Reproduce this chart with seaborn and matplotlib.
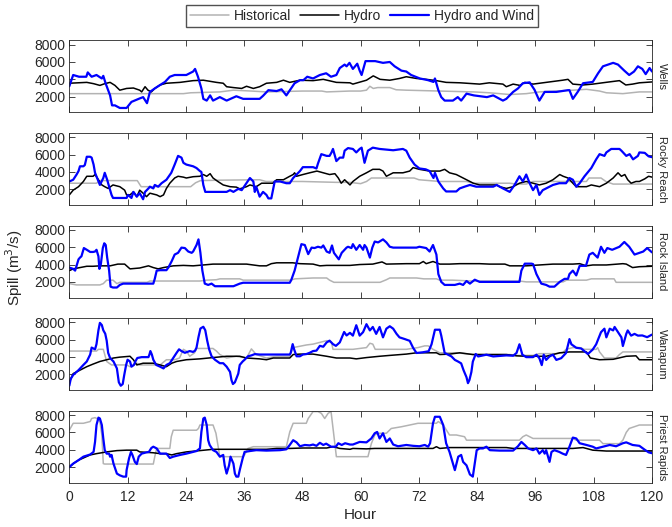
import numpy as np
import matplotlib
matplotlib.use("Agg")
import matplotlib.pyplot as plt
import seaborn as sns

# dam names, top to bottom
dams = ["Wells", "Rocky Reach", "Rock Island", "Wanapum", "Priest Rapids"]
series_names = ["Historical", "Hydro", "Hydro and Wind"]
x_ticks = list(range(0, 121, 12))
y_ticks = [2000, 4000, 6000, 8000]

# (hour, spill m3/s)
wells_hist = [(0, 2350), (23.5, 2350), (25, 2450), (31, 2550), (33.8, 2750), (37.5, 2650), (40.6, 2550),
              (48, 2650), (52, 2650), (53, 2550), (57.7, 2650), (60, 2650), (61.2, 2750), (61.9, 3200),
              (62.6, 2950), (63.5, 3050), (66, 3050), (67.3, 2800), (69.4, 2750), (76.3, 2650), (83.3, 2550),
              (86.5, 2450), (88.6, 2350), (90.7, 2250), (94.1, 2350), (96.8, 2550), (103.7, 2750),
              (106.5, 2850), (109.2, 2650), (110.6, 2450), (114, 2350), (117.4, 2550), (120, 2550)]
wells_hydro = [(0, 3550), (3.6, 3650), (5, 3500), (6.3, 3300), (7.3, 3500), (8.4, 3650), (9.4, 3300),
               (10.4, 2750), (11.8, 2950), (13.2, 3000), (14.5, 2750), (14.9, 2550), (15.6, 3150),
               (16.2, 2750), (16.9, 2550), (17.6, 2950), (18.7, 3350), (20, 3550), (22.8, 3650), (25.5, 3850),
               (27.6, 3900), (30.3, 3650), (31.7, 3550), (32.4, 3150), (33.8, 3050), (35.5, 2950),
               (36.5, 3200), (37.9, 2950), (39.2, 3150), (40.6, 3550), (42.7, 3650), (44.1, 3900),
               (45.4, 3650), (47.5, 3900), (50.2, 3850), (52.3, 4000), (55, 3650), (57.8, 3600),
               (58.4, 3450), (61.2, 3900), (62.6, 4400), (64, 4000), (66, 3900), (68, 4100), (69.4, 4300),
               (71.5, 4100), (73.5, 4000), (75.6, 3850), (77.6, 3650), (80.5, 3600), (84.5, 3450),
               (86.5, 3600), (89.3, 3450), (90, 3150), (91.4, 3450), (92.8, 3300), (93.8, 3650),
               (95.5, 3450), (98.2, 3650), (101.6, 3900), (102.7, 4000), (103.7, 3450), (105.8, 3350),
               (107.8, 3450), (110.5, 3650), (113.3, 3850), (114.6, 3350), (116, 3450), (117.4, 3600),
               (120, 3700)]
wells_wind = [(0, 3200), (0.8, 4500), (2, 4300), (3.5, 4300), (3.8, 4800), (4.6, 4300), (5.6, 4500),
              (6.7, 4100), (7, 4400), (7.5, 3500), (8.4, 2150), (8.8, 1000), (9.4, 1000), (10.4, 700),
              (11.8, 700), (12.8, 1400), (14.5, 1800), (15.2, 1950), (16, 1250), (16.6, 2550), (17.6, 2950),
              (18.7, 3350), (19.7, 3700), (20.7, 4300), (21.7, 4500), (24.1, 4500), (25.5, 4900),
              (25.9, 5200), (26.5, 4300), (27.2, 2950), (27.6, 1750), (28.3, 1550), (29, 2150), (29.6, 1550),
              (30.3, 1750), (31, 1950), (32.4, 1550), (34.4, 2050), (35.8, 1750), (39.2, 1750), (39.9, 2100),
              (41, 2750), (42.7, 2650), (43.7, 2850), (44.7, 2150), (46.4, 3550), (47.5, 3900), (48.2, 3900),
              (49, 4300), (50.2, 4100), (51.6, 4500), (52.9, 4700), (53.9, 4300), (55, 4500), (55.7, 5300),
              (56.7, 5700), (57.1, 5500), (57.7, 5900), (58.4, 5200), (59.3, 5800), (59.8, 5000),
              (60.2, 4500), (61, 6100), (63, 6100), (64.6, 5900), (66, 6000), (67, 5500), (68.4, 5000),
              (69.4, 4900), (70.4, 4500), (72.2, 4100), (73.9, 3900), (75, 3700), (75.3, 4100), (76, 2750),
              (76.6, 1950), (77.3, 1550), (79, 1550), (80, 1950), (80.7, 1550), (81.8, 2350), (83.3, 2150),
              (86, 1950), (87.3, 2150), (89.3, 1550), (90, 1750), (91.4, 2550), (92.4, 2950), (93.4, 3550),
              (94.8, 3650), (95.8, 2800), (96.8, 1550), (97.9, 2550), (100.3, 2550), (102.7, 2750),
              (103, 2750), (103.7, 1750), (104.7, 2550), (105.8, 3550), (107.8, 3700), (108.9, 4700),
              (109.9, 5500), (112, 5900), (113, 5700), (114.3, 5000), (115.3, 4500), (116.3, 4900),
              (117.1, 5500), (118, 5200), (118.7, 4600), (119.5, 5300), (120, 4900)]

rocky_hist = [(0, 2700), (5.6, 2700), (6.3, 3000), (14, 3000), (14.8, 2300), (25, 2300), (26, 2750), (27, 3000),
              (31, 3050), (39.2, 3100), (40.5, 2900), (48, 2900), (55, 2800), (57.7, 2800), (60, 2650),
              (61.2, 2900), (62.2, 3300), (71, 3300), (72, 3100), (76.3, 2900), (81.8, 2900), (83.3, 2700),
              (90.7, 2700), (92, 2600), (94.1, 2600), (95.5, 2900), (106.5, 2900), (107, 3300), (109.5, 3300),
              (110.5, 2900), (112, 2600), (120, 2600)]
rocky_hydro = [(0, 1350), (0.8, 1900), (1.9, 2300), (2.9, 2900), (3.6, 3500), (4.9, 3500), (5.3, 3700),
               (6, 3100), (6.7, 2500), (7.3, 2300), (8, 2100), (9, 2500), (10.4, 2300), (11.4, 1900),
               (11.8, 1350), (12.5, 1350), (13.2, 1700), (13.9, 1150), (14.5, 1900), (15.2, 1550),
               (15.9, 1150), (16.6, 1550), (18, 1350), (18.7, 1150), (19.4, 1350), (20, 2100), (20.7, 2700),
               (21.7, 3300), (22.4, 3500), (23.5, 3400), (24.1, 3300), (25.5, 3450), (26.9, 3500),
               (27.6, 3700), (28.3, 3500), (29, 3800), (29.6, 3300), (30.6, 2900), (31.7, 2500), (33.1, 2300),
               (34.4, 2250), (35.1, 2050), (36.5, 2300), (37.2, 2500), (38.5, 2300), (39.6, 2700),
               (41.9, 2700), (42.7, 3100), (44.1, 3100), (45.4, 3500), (46.1, 3700), (46.4, 3900),
               (46.8, 3500), (48.1, 3700), (49.5, 3900), (51, 4100), (52.3, 3900), (53.6, 3700), (54.7, 3800),
               (55.4, 3300), (56, 2700), (56.7, 3100), (57.8, 2500), (58.4, 2900), (59.8, 3500), (61.2, 3900),
               (62.5, 4300), (63.9, 4300), (64.6, 4100), (65.3, 3500), (66.7, 3900), (68.7, 3900),
               (70.1, 4100), (70.8, 4500), (72.1, 4300), (74.2, 4100), (76.3, 4100), (77.3, 4300),
               (78.3, 3900), (79.7, 3700), (81.1, 3300), (82.5, 2900), (83.2, 2700), (84.5, 2500), (88, 2500),
               (88.6, 2300), (90, 2100), (91.4, 2300), (92.7, 2700), (94.1, 2900), (95.5, 2700), (96.8, 2500),
               (98.2, 2700), (99.6, 3100), (101, 3700), (101.7, 3500), (102.7, 3300), (103.7, 2700),
               (104.4, 2300), (106.5, 2300), (107.5, 2500), (109.2, 2300), (110.6, 2700), (112, 3300),
               (113, 3900), (113.7, 3500), (114.4, 3700), (115, 3100), (115.7, 2700), (116.7, 2900),
               (117.4, 2900), (118.5, 3200), (119.3, 3500), (120, 3400)]
rocky_wind = [(0, 2900), (0.8, 3100), (1.5, 3700), (1.9, 4100), (2.2, 4650), (2.9, 4650), (3.2, 4800),
              (3.6, 5750), (4.3, 5750), (4.6, 5650), (5, 4850), (5.3, 3900), (6, 2900), (6.3, 2500), (7, 3300),
              (7.3, 3900), (7.8, 3100), (8.2, 2300), (8.7, 1350), (9, 1000), (11.8, 1000), (12.1, 1350),
              (12.8, 1000), (13.2, 1700), (13.9, 1150), (14.5, 1550), (15.2, 850), (15.6, 1700), (16.3, 2100),
              (16.6, 2300), (17.3, 2100), (17.6, 2500), (18.3, 2300), (19, 2700), (20, 3100), (21, 3900),
              (21.7, 4850), (22.4, 5850), (23.1, 5650), (23.5, 5050), (24.1, 4850), (25.5, 4650),
              (26.2, 4450), (26.9, 4100), (27.2, 4000), (27.6, 2500), (28, 1700), (31, 1700), (32.4, 1700),
              (33.1, 1900), (33.8, 1700), (34.8, 2050), (35.5, 1900), (37.2, 3300), (37.9, 2900),
              (38.2, 1700), (38.5, 2300), (39.2, 1150), (39.9, 1700), (40.6, 1350), (41, 950), (41.6, 950),
              (42.3, 2900), (43.4, 2900), (44.7, 2700), (45.4, 2700), (46.1, 3300), (46.8, 3700),
              (47.5, 4100), (48.1, 4550), (50.2, 4550), (50.9, 4400), (51.2, 4950), (51.9, 6050), (53, 5850),
              (53.6, 5850), (54, 6250), (54.3, 6650), (55, 5250), (55.7, 5650), (56.4, 5650), (56.7, 6450),
              (57.4, 6750), (58.4, 6650), (59.1, 6250), (59.8, 6650), (60.2, 6800), (60.8, 5050),
              (61.5, 6450), (62.5, 6800), (63.9, 6650), (66.7, 6500), (68.7, 6650), (69.4, 6450),
              (70.1, 5650), (71.1, 4850), (72.1, 4400), (73.4, 4300), (74.2, 4100), (75, 3300), (75.3, 3900),
              (76, 2900), (77, 2100), (77.6, 1750), (79.7, 1750), (80.4, 2100), (81.4, 2300), (82.5, 2500),
              (83.8, 2300), (87.3, 2300), (88, 2500), (89.3, 2100), (90.7, 1700), (91.7, 2500), (92.7, 3500),
              (93.4, 2900), (94.1, 3700), (94.8, 2700), (95.5, 1900), (96.2, 2500), (96.8, 1350),
              (97.5, 1900), (98.9, 2300), (99.6, 2500), (100.9, 2700), (102.3, 2700), (103, 3300),
              (103.7, 3100), (104.4, 2300), (105.1, 2700), (106.1, 3500), (107.5, 4450), (108.5, 5450),
              (109.2, 6050), (110.2, 5850), (110.6, 6250), (111.6, 6650), (113.3, 6650), (113.7, 6450),
              (114.7, 5850), (115.4, 6050), (116.1, 5450), (117.1, 5850), (117.4, 6250), (118.5, 6200),
              (119.3, 5800), (120, 5700)]

island_hist = [(0, 1800), (1.5, 1650), (6.3, 1650), (7, 1800), (7.7, 2200), (9, 2200), (9.8, 1800), (10.4, 1950),
               (16, 1950), (16.6, 2100), (26.9, 2100), (28.3, 2200), (30.3, 2250), (31, 2350), (35.1, 2350),
               (35.8, 2200), (45.4, 2200), (46.5, 2350), (50.2, 2450), (53, 2450), (53.6, 2200), (54.5, 1950),
               (64, 1950), (65.3, 2250), (66, 2450), (71.5, 2450), (73, 2350), (75.6, 2350), (76.3, 2200),
               (78.9, 2200), (83, 2100), (92.7, 2100), (94.1, 2000), (101.7, 2000), (102.4, 2200),
               (106.5, 2200), (107.5, 2350), (112.2, 2350), (112.6, 1950), (120, 1950)]
island_hydro = [(0, 3300), (0.8, 3500), (2.2, 3650), (3.6, 3800), (4.9, 3800), (6.3, 3850), (8.4, 3850),
                (10, 4050), (11.4, 4050), (12.5, 3500), (14.5, 3600), (16.3, 3850), (17.3, 3650), (18.3, 3500),
                (19.4, 3650), (21.4, 3850), (23.5, 3900), (25.5, 3850), (27.6, 3950), (29.6, 4050),
                (36.5, 4050), (39.2, 3850), (40.6, 3850), (41.6, 4100), (42.7, 4200), (46, 4200), (47.5, 4100),
                (50.2, 4050), (51.6, 3850), (53, 3900), (57.8, 3900), (59.8, 4000), (62.5, 4050), (64.4, 4300),
                (65.3, 4050), (69.4, 4100), (72.1, 4100), (72.9, 4350), (73.5, 4100), (74.9, 4350),
                (76.3, 4050), (78.3, 4050), (80.4, 4100), (84.5, 4100), (86.5, 4050), (89.7, 4050),
                (90.7, 3850), (94.1, 3850), (96.8, 3950), (99.6, 4050), (103.7, 4050), (105.1, 4100),
                (106.5, 3850), (107.8, 3950), (110.6, 3950), (114, 4100), (114.7, 4050), (116, 3650),
                (117.4, 3750), (120, 3800)]
island_wind = [(0, 3650), (0.8, 3500), (1.2, 3300), (1.9, 4600), (2.2, 4800), (2.5, 4950), (3, 5900), (3.6, 5700),
               (4.3, 5450), (4.9, 5450), (5.3, 5500), (5.6, 5700), (6, 4950), (6.2, 3500), (6.5, 4050),
               (6.9, 5900), (7.2, 6450), (7.5, 6250), (7.8, 4800), (8.2, 3300), (8.5, 1450), (9, 1350),
               (9.8, 1350), (10.4, 1650), (11.1, 1800), (17.3, 1800), (17.6, 2350), (18, 3300), (18.7, 3350),
               (20, 3350), (20.4, 3650), (21.1, 4400), (21.7, 5150), (22.4, 5350), (23.1, 5950), (23.8, 5900),
               (24.5, 5500), (25.2, 5350), (25.5, 5500), (26.2, 6250), (26.6, 6900), (27, 5350), (27.4, 3300),
               (27.9, 1800), (28.6, 1650), (29.3, 1800), (30, 1500), (33.8, 1500), (35.1, 1800), (35.8, 1900),
               (45.4, 1900), (45.7, 2200), (46.4, 3300), (47.1, 4800), (47.8, 6350), (48.5, 6250),
               (49.2, 5200), (49.9, 5950), (50.5, 5900), (51.2, 6050), (51.9, 5950), (52.3, 6200), (53, 5500),
               (53.6, 5350), (54.1, 6200), (54.5, 5350), (55.5, 4600), (56.1, 5350), (57.1, 5950),
               (57.4, 6050), (58.1, 5900), (58.4, 6350), (59.1, 5700), (59.8, 6250), (60.5, 5700),
               (60.8, 6250), (61.2, 5950), (61.9, 4800), (62.4, 5950), (62.9, 6650), (63.6, 6550),
               (64.6, 6900), (65.3, 6550), (66, 6050), (66.7, 5950), (71.5, 5950), (72.1, 6050), (73.5, 5900),
               (74.2, 5500), (74.9, 6250), (75.6, 5150), (76, 2900), (76.6, 2000), (77.3, 1650), (79.4, 1650),
               (80.4, 1800), (81.1, 1650), (81.8, 2100), (82.5, 1800), (83.5, 2250), (84.5, 2000), (92.7, 2000),
               (93.1, 3300), (93.8, 4100), (95.2, 4100), (95.5, 4050), (96.2, 2900), (97.2, 1800),
               (98.2, 1650), (98.9, 1450), (99.9, 1450), (101, 2000), (102, 2350), (102.7, 2350), (103, 2900),
               (103.7, 3300), (104.4, 2750), (105.1, 3850), (106.4, 3850), (107.1, 5150), (107.8, 5350),
               (108.8, 4800), (109.5, 6050), (110.2, 5350), (110.8, 5900), (111.8, 5700), (113.3, 6050),
               (114.3, 6600), (115.3, 6050), (116.4, 5150), (117.4, 5350), (118.2, 5500), (119, 5900),
               (120, 5400)]

wanapum_hist = [(0, 4700), (5.6, 4700), (6, 4900), (7, 4900), (7.7, 3500), (8.7, 3100), (11.8, 3100), (12.5, 2900),
                (13.9, 3300), (14.5, 3100), (18.7, 3100), (20, 3700), (21.7, 3700), (22.7, 3900), (23.5, 4900),
                (24.1, 4700), (24.8, 4100), (25.8, 4500), (26.2, 5000), (29.6, 5000), (30.3, 4700), (31, 4300),
                (32.4, 3900), (34.4, 4100), (36.5, 3900), (37.5, 4950), (38.5, 4300), (40.6, 3900),
                (42.7, 4100), (45.4, 4100), (46.1, 5100), (48.8, 5400), (50.2, 5500), (53, 5900), (54, 5700),
                (54.3, 4900), (57.8, 4900), (58.4, 4900), (61.2, 5100), (61.9, 5600), (62.5, 5500), (63, 4900),
                (69.4, 4900), (71.8, 5100), (73.2, 5300), (73.9, 5300), (74.9, 4900), (76.3, 4500),
                (79.7, 4500), (83.3, 4300), (90.7, 4300), (92.1, 4200), (95.5, 4200), (96.8, 4400),
                (100.3, 4400), (101.6, 4500), (102.3, 4900), (103.7, 5100), (105.1, 5100), (106.1, 4900),
                (108.5, 4900), (108.8, 5100), (109.2, 4600), (110.2, 3900), (112.6, 3900), (113.3, 4300),
                (114, 4600), (120, 4600)]
wanapum_hydro = [(0, 1100), (0.8, 2100), (2.2, 2500), (3.6, 2900), (4.9, 3200), (6.3, 3500), (7.7, 3700),
                 (9.1, 3900), (10.4, 4000), (12.5, 4100), (13.2, 3700), (13.9, 3100), (15.2, 3300),
                 (17.3, 3300), (18.7, 3100), (20, 2900), (21.1, 3300), (22.1, 3500), (24.1, 3700), (26.9, 3800),
                 (29.6, 3950), (32.4, 4100), (35.1, 4100), (36.5, 3900), (39.2, 3800), (40.6, 3700),
                 (42, 3900), (45.4, 3900), (46.1, 4300), (47.5, 4350), (50.2, 4350), (53, 4100), (55, 3900),
                 (57.8, 3900), (59.1, 3800), (61.2, 3950), (63.9, 4100), (66, 4200), (69.4, 4350), (71.5, 4500),
                 (75.6, 4500), (76.3, 4300), (78.3, 4350), (80.4, 4500), (83.1, 4300), (90, 4300),
                 (92.1, 4150), (94.1, 4100), (98.2, 4100), (99.6, 4300), (101, 4500), (103, 4600),
                 (106.5, 4600), (107.3, 3900), (109.2, 3700), (112, 3750), (114.7, 4100), (116.7, 4150),
                 (117.4, 3700), (120, 3700)]
wanapum_wind = [(0, 700), (0.3, 1500), (0.8, 1950), (1.9, 2500), (2.9, 3100), (3.6, 3500), (4.3, 4300),
                (4.6, 5100), (5.3, 4900), (5.6, 5500), (6, 7100), (6.3, 7950), (6.7, 7700), (7, 7100),
                (7.4, 6700), (7.7, 5900), (8, 4500), (8.4, 3900), (9.1, 3500), (9.8, 2700), (10.2, 1100),
                (10.6, 700), (11, 900), (11.3, 1900), (11.7, 3100), (12, 3700), (12.5, 3500), (12.8, 2900),
                (13.3, 3100), (13.6, 3500), (14, 3900), (14.9, 4000), (16.3, 4000), (16.5, 4300), (16.7, 4700),
                (17, 4300), (17.3, 3700), (17.9, 3100), (18.7, 2900), (19.4, 2700), (20, 3100), (20.7, 3300),
                (21.4, 3900), (22.1, 4500), (22.6, 4900), (23.1, 4700), (23.8, 4500), (24.8, 4700),
                (25.5, 4600), (25.9, 4750), (26.2, 5100), (26.6, 6300), (27, 7300), (27.6, 7500), (28, 7100),
                (28.4, 5900), (28.8, 4900), (29.3, 4100), (30, 3700), (31, 3300), (31.7, 3300), (32.4, 2900),
                (33.1, 2300), (33.4, 1350), (33.7, 900), (34.1, 1100), (34.8, 2100), (35.1, 3100), (35.7, 3500),
                (36.1, 3700), (36.8, 4100), (37.5, 4200), (38.2, 4350), (39.2, 4300), (45.4, 4300),
                (45.6, 4500), (46, 5500), (46.3, 4900), (46.8, 4100), (47.5, 4100), (48.1, 4300), (48.8, 4350),
                (49.5, 4500), (50.2, 4700), (50.9, 4750), (51.6, 5300), (52.3, 5200), (53, 5700), (53.6, 5900),
                (54.3, 5500), (54.9, 5300), (55.7, 5700), (56, 6100), (56.6, 6900), (57.1, 6500), (57.8, 6800),
                (58.4, 6480), (59.1, 7680), (59.8, 6480), (60.5, 6880), (61.2, 7800), (61.9, 7080),
                (62.5, 7480), (63.2, 6680), (63.9, 7480), (64.6, 6280), (65.3, 7280), (66, 7560), (66.7, 7280),
                (67.4, 6680), (68, 6280), (69.1, 6080), (70.1, 5880), (70.8, 5080), (71.5, 4480), (72.8, 4560),
                (74, 4680), (74.6, 5480), (75.3, 7160), (76.3, 7160), (76.6, 6480), (77.3, 4480), (78, 4280),
                (78.7, 4080), (79.4, 3680), (80.1, 3480), (80.7, 3280), (81.2, 2480), (81.8, 1680), (82.1, 1000),
                (82.4, 1360), (82.8, 2280), (83.1, 3480), (83.7, 4360), (84.2, 4080), (85.9, 4280),
                (87.3, 4080), (90, 4200), (91.4, 4160), (92.1, 4480), (92.7, 5480), (93.3, 4280), (94.1, 4000),
                (95.5, 4000), (96.2, 4280), (96.8, 3880), (97.3, 3080), (97.7, 4280), (98.2, 3680),
                (98.9, 4080), (99.6, 4280), (100.3, 3680), (101.3, 3880), (102.3, 4480), (103, 6080),
                (103.4, 5480), (104.4, 5080), (105.4, 5000), (106.1, 4680), (106.8, 4360), (107.8, 4880),
                (108.5, 5480), (109.5, 6880), (110.2, 7280), (110.6, 6280), (111.3, 7280), (112, 7080),
                (112.3, 7480), (113, 6880), (113.7, 6280), (114, 5280), (114.7, 6680), (115, 7080),
                (115.7, 6480), (116.4, 6680), (117.1, 6480), (118, 6500), (119, 6300), (120, 6600)]

priest_hist = [(0, 6250), (0.8, 7050), (2.9, 7050), (4.3, 7250), (4.6, 7600), (5.3, 7700), (6, 7500), (6.3, 7250),
               (6.7, 5700), (7, 2400), (7.3, 2350), (17.3, 2350), (17.6, 3200), (18, 4150), (20.7, 4150),
               (21, 5500), (21.4, 6250), (26.2, 6250), (26.6, 6450), (26.9, 6850), (29.6, 6850), (30.2, 5900),
               (30.6, 4550), (31, 3200), (35.8, 3200), (36.1, 3400), (36.8, 4150), (37.9, 4350), (44.7, 4350),
               (45.4, 6050), (46.1, 7050), (48.8, 7050), (49.2, 7600), (50.2, 8400), (51.2, 8400),
               (51.9, 8200), (52.6, 7600), (53.3, 8200), (53.9, 8400), (54.4, 6050), (55, 3200), (61.5, 3200),
               (62.2, 4700), (62.9, 5700), (63.5, 5900), (65.3, 5900), (66.3, 6450), (68.4, 6650),
               (71.8, 7050), (75.6, 7050), (76, 7250), (77, 6850), (78.3, 5700), (79.7, 5700), (81.4, 5500),
               (81.8, 5100), (92.7, 5100), (93.4, 5500), (94.1, 5700), (95.5, 5300), (103.7, 5300),
               (104.4, 5100), (109.2, 5100), (109.9, 4700), (113.3, 4700), (114, 5100), (114.7, 6000),
               (115.3, 6450), (117.4, 6850), (120, 6850)]
priest_hydro = [(0, 2000), (0.8, 2400), (1.9, 2800), (2.9, 3050), (4.3, 3400), (5.6, 3550), (7.7, 3750),
                (9.8, 3900), (11.8, 3950), (13.9, 3950), (14.5, 3750), (15.9, 3700), (17.3, 3650), (18.7, 3550),
                (20, 3550), (21.1, 3400), (22.1, 3550), (24.1, 3750), (26.9, 3900), (29.6, 4050), (40.6, 4050),
                (42.7, 4150), (45.4, 4150), (48.1, 4200), (53, 4200), (54.3, 4350), (55.7, 4150), (57.8, 4050),
                (58.4, 4150), (61.2, 4100), (62.9, 4150), (74.9, 4150), (75.6, 4350), (76.3, 4150),
                (78.3, 4250), (90, 4250), (91.4, 4150), (103.7, 4150), (105.8, 4250), (107.8, 3950),
                (110.6, 3850), (117.4, 3850), (120, 3850)]
priest_wind = [(0, 2000), (0.8, 2400), (1.9, 2800), (2.9, 3200), (4.3, 3450), (5, 3750), (5.3, 4900), (5.6, 6850),
               (6, 7700), (6.3, 7600), (6.7, 6850), (7, 5300), (7.3, 3950), (7.7, 3550), (8.2, 3550),
               (8.4, 3200), (8.7, 3400), (9.1, 2400), (9.8, 1250), (10.4, 1050), (11.1, 900), (11.7, 900),
               (11.8, 1650), (12.3, 3000), (12.7, 3750), (13, 3400), (13.5, 2600), (13.9, 2350), (14.3, 3200),
               (14.9, 3550), (15.9, 3700), (16.4, 3750), (16.9, 4200), (17.3, 4350), (18, 4150), (18.7, 3550),
               (20, 3550), (20.7, 3050), (21.4, 3200), (22.8, 3400), (24.1, 3550), (25.5, 3750), (26.2, 3850),
               (26.9, 4150), (27.2, 6050), (27.6, 7600), (27.9, 7700), (28.3, 6850), (28.6, 5100), (28.9, 4550),
               (29.6, 3950), (30.3, 3750), (31, 3200), (31.7, 3400), (32, 2200), (32.4, 1250), (32.9, 2200),
               (33.2, 3200), (33.8, 2400), (34.1, 1250), (34.4, 900), (34.8, 900), (35.1, 1650), (35.7, 3000),
               (36.1, 3750), (37.2, 3850), (38.5, 3950), (40.6, 3900), (43.4, 3950), (44.7, 4050), (45.4, 4550),
               (46.1, 5100), (46.8, 4850), (47.5, 4400), (48.5, 4550), (49.5, 4500), (50.2, 4600), (50.9, 4450),
               (51.6, 4800), (52.3, 4550), (52.9, 4700), (53.9, 4350), (54.9, 4350), (55.4, 4750), (56.1, 4550),
               (56.8, 4750), (57.8, 4600), (58.4, 4600), (59.8, 4900), (61.2, 4850), (62.2, 5300), (62.9, 5900),
               (63.4, 6050), (63.9, 5300), (64.6, 5900), (65.3, 4900), (66, 5300), (66.7, 4600), (67.7, 4400),
               (69.4, 4550), (70.8, 4450), (72.1, 4400), (73.2, 4550), (73.9, 4350), (74.3, 4750), (74.9, 7050),
               (75.3, 7800), (76.3, 7800), (77, 6850), (77.6, 4750), (78.3, 3750), (79, 2400), (79.4, 1650),
               (80.1, 3200), (80.7, 3400), (81.1, 2600), (81.8, 2200), (82.5, 1150), (83.1, 900), (83.5, 2400),
               (83.9, 3950), (84.5, 4150), (85.2, 4150), (85.9, 4350), (86.6, 3950), (88.6, 3900), (91.4, 3900),
               (92.4, 4400), (93.1, 4900), (93.8, 4550), (94.5, 4150), (95.5, 3950), (96.2, 4150), (96.8, 3550),
               (97.5, 3950), (97.9, 3550), (98.2, 3950), (98.6, 3200), (98.9, 2600), (99.3, 3750), (99.9, 3950),
               (100.9, 3750), (101.6, 3550), (102.3, 3400), (103, 4350), (103.7, 5400), (104.4, 5300),
               (105.1, 4750), (106.5, 4550), (107.8, 4350), (108.5, 4150), (109.9, 4350), (111.3, 4550),
               (112.6, 4400), (114, 4750), (114.7, 4850), (116, 4550), (117.4, 4450), (118.5, 4000),
               (119.3, 3700), (120, 3600)]

panels = [
    (wells_hist, wells_hydro, wells_wind),
    (rocky_hist, rocky_hydro, rocky_wind),
    (island_hist, island_hydro, island_wind),
    (wanapum_hist, wanapum_hydro, wanapum_wind),
    (priest_hist, priest_hydro, priest_wind),
]

sns.set_theme(style="ticks")
plt.rcParams["font.family"] = ["Liberation Sans", "DejaVu Sans"]
plt.rcParams["axes.linewidth"] = 0.6

colors = ["#b3b3b3", "black", "#0000ff"]
widths = [1.1, 1.1, 1.6]
dark = "#262626"

fig = plt.figure(figsize=(6.72, 5.27), dpi=100)
W, H = 672, 527
left_px, right_px = 69.3, 652
panel_h = 72
axes = []
for i, (dam, data) in enumerate(zip(dams, panels)):
    top = 40.3 + 92.6 * i
    ax = fig.add_axes([left_px / W, 1 - (top + panel_h) / H, (right_px - left_px) / W, panel_h / H])
    for name, pts, c, lw in zip(series_names, data, colors, widths):
        arr = np.array(pts)
        sns.lineplot(x=arr[:, 0], y=arr[:, 1], ax=ax, color=c, linewidth=lw,
                     estimator=None, sort=False, label=name if i == 0 else None, legend=False)
    ax.set_xlim(0, 120)
    ax.set_ylim(200, 8500)
    ax.set_xticks(x_ticks)
    ax.set_yticks(y_ticks)
    ax.tick_params(direction="in", top=True, right=True, length=4, width=0.6,
                   labelsize=10, colors=dark, labelcolor=dark, pad=3)
    ax.tick_params(axis="x", pad=5)
    for s in ax.spines.values():
        s.set_color(dark)
    if i < len(dams) - 1:
        ax.set_xticklabels([])
    ax.set_xlabel("")
    ax.set_ylabel("")
    ax.text(1.008, 0.5, dam, transform=ax.transAxes, rotation=-90, va="center", ha="left",
            fontsize=8, color=dark)
    axes.append(ax)

axes[-1].set_xlabel("Hour", fontsize=11, color=dark, labelpad=3)
fig.text(14 / W, 1 - 268 / H, "Spill (m$^3$/s)", rotation=90, ha="center", va="center",
         fontsize=11, color=dark)

handles = axes[0].get_lines()
fig.legend(handles, series_names, loc="center", bbox_to_anchor=(362 / W, 1 - 16 / H), ncol=3,
           frameon=True, fancybox=False, edgecolor=dark, fontsize=10, handlelength=2.8,
           columnspacing=0.6, handletextpad=0.4, borderpad=0.3, borderaxespad=0)

fig.savefig("out.png", dpi=100)
